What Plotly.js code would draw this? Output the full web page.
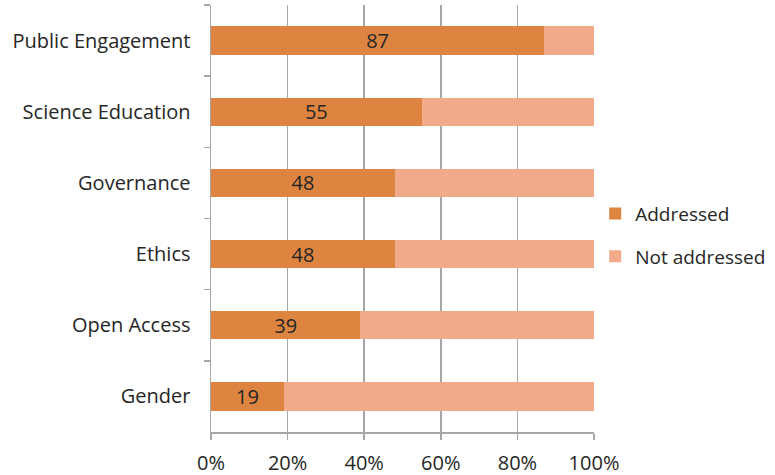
<!DOCTYPE html>
<html><head><meta charset="utf-8">
<script src="https://cdn.plot.ly/plotly-3.0.1.min.js"></script>
<style>html,body{margin:0;padding:0;background:#fff;}</style>
</head><body>
<div id="chart" style="width:775px;height:475px;"></div>
<script>
const categories = ["Public Engagement","Science Education","Governance","Ethics","Open Access","Gender"];
const addressed = [87, 55, 48, 48, 39, 19];
const notAddressed = [13, 45, 52, 52, 61, 81];
const seriesNames = ["Addressed","Not addressed"];
const xTickVals = [0, 20, 40, 60, 80, 100];
const xTickText = ["0%","20%","40%","60%","80%","100%"];

const FONT = "Open Sans, DejaVu Sans, sans-serif";
const TXT = "#262626";
const traces = [
  {type:"bar", orientation:"h", name:seriesNames[0], y:categories, x:addressed,
   marker:{color:"#DE8441"}, text:addressed.map(String), textposition:"inside", textangle:0,
   insidetextanchor:"middle", constraintext:"none", textfont:{family:FONT,size:20,color:TXT},
   legendgroup:"a", hoverinfo:"x+y"},
  {type:"bar", orientation:"h", name:seriesNames[1], y:categories, x:notAddressed,
   marker:{color:"#F2AB8A"}, legendgroup:"b", hoverinfo:"x+y", textposition:"none"}
];
const layout = {
  width:775, height:475, barmode:"stack", bargap:0.6,
  margin:{l:211, r:181, t:5, b:43, autoexpand:false},
  paper_bgcolor:"#fff", plot_bgcolor:"#fff",
  font:{family:FONT, size:20, color:TXT},
  xaxis:{range:[0,100], tickvals:xTickVals, ticktext:xTickText, showgrid:true,
         gridcolor:"#A6A6A6", gridwidth:1.5, ticks:"outside", ticklen:6, tickcolor:"#A6A6A6",
         tickwidth:1.5, showline:true, linecolor:"#A6A6A6", linewidth:1.5, zeroline:false,
         ticklabelstandoff:6, automargin:false,
         tickfont:{size:20, family:FONT, color:TXT}, fixedrange:true},
  yaxis:{type:"category", autorange:"reversed", tickson:"boundaries", ticks:"outside",
         ticklen:6, tickcolor:"#A6A6A6", tickwidth:1.5, showline:true, linecolor:"#A6A6A6",
         linewidth:1.5, showgrid:false, zeroline:false, ticklabelstandoff:15, automargin:false,
         tickfont:{size:20, family:FONT, color:TXT}, fixedrange:true},
  legend:{xref:"container", yref:"container", x:0.768, xanchor:"left", y:0.505, yanchor:"middle",
          traceorder:"grouped", tracegroupgap:15, font:{size:19, family:FONT, color:TXT},
          itemwidth:30, bgcolor:"rgba(0,0,0,0)"},
  showlegend:true
};
Plotly.newPlot("chart", traces, layout, {displayModeBar:false, staticPlot:true});
</script>
</body></html>
